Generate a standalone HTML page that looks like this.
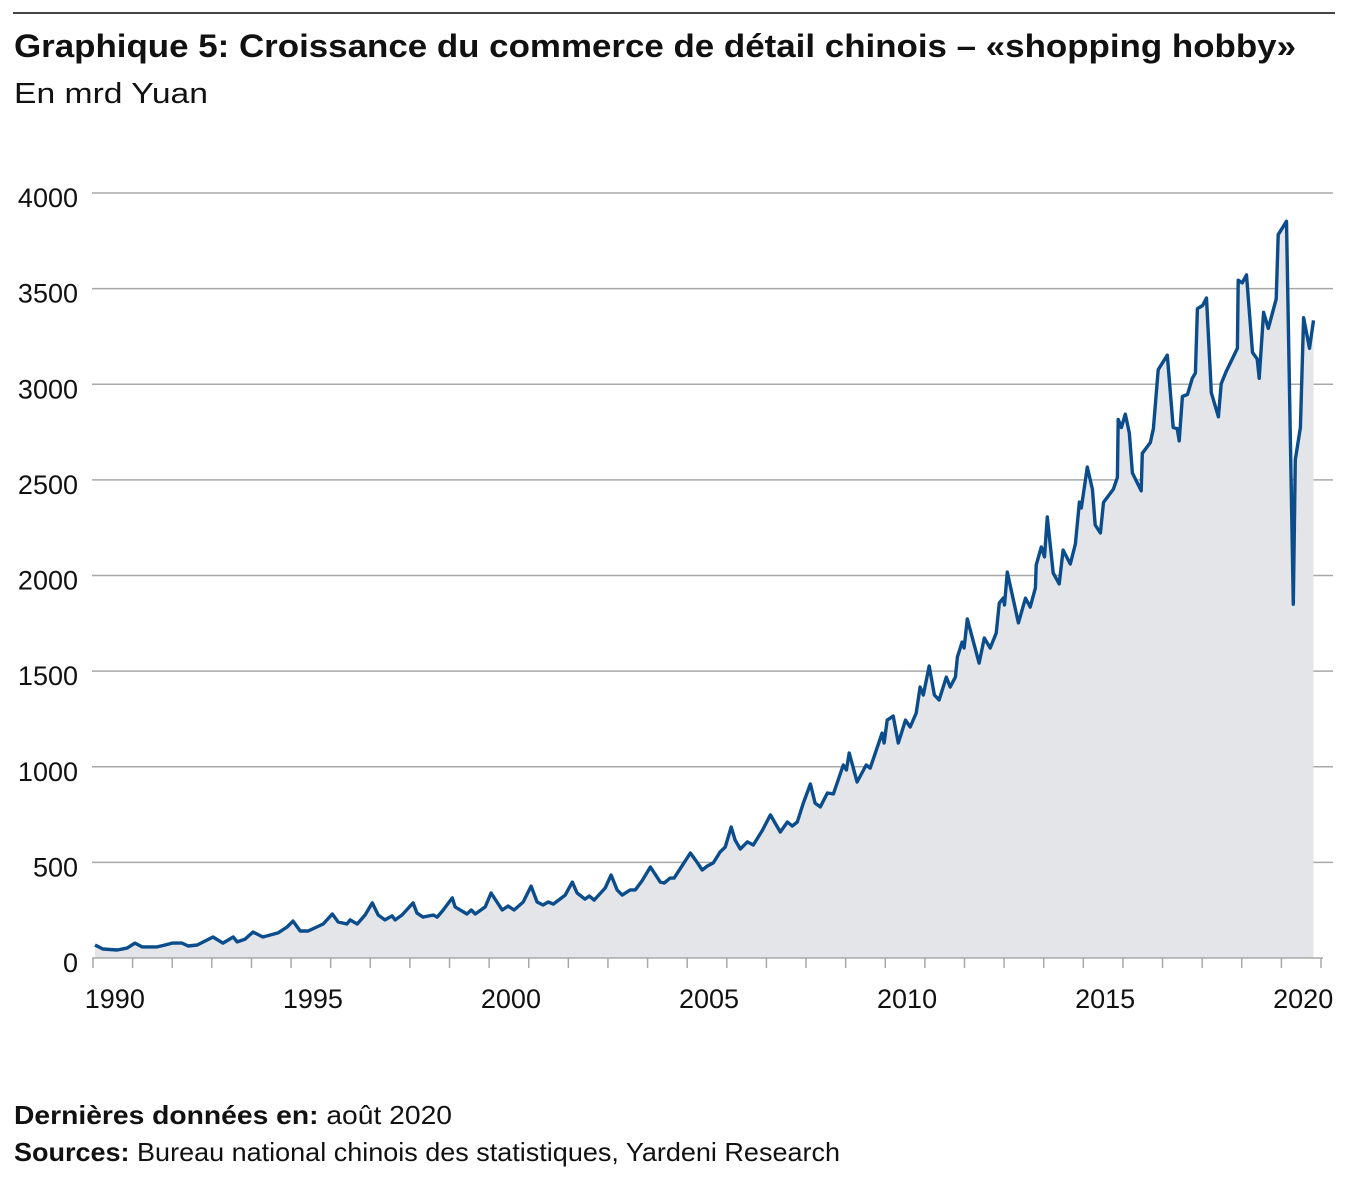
<!DOCTYPE html>
<html><head><meta charset="utf-8"><style>
html,body{margin:0;padding:0;background:#fff;}
svg{display:block;font-family:"Liberation Sans",Arial,sans-serif;}
</style></head><body>
<svg id="chart" width="1353" height="1200" viewBox="0 0 1353 1200" xmlns="http://www.w3.org/2000/svg">
<line x1="13" y1="13" x2="1335" y2="13" stroke="#444" stroke-width="2"/>
<text x="14" y="57" font-size="32" font-weight="bold" fill="#111" textLength="1282" lengthAdjust="spacingAndGlyphs">Graphique 5: Croissance du commerce de détail chinois – «shopping hobby»</text>
<text x="14" y="103" font-size="29" fill="#111" textLength="194" lengthAdjust="spacingAndGlyphs">En mrd Yuan</text>
<g id="grid"></g>
<g id="area"></g>
<g id="xaxis"></g>
<g id="yaxis"></g>
<text x="14" y="1124" font-size="26" fill="#111" textLength="438" lengthAdjust="spacingAndGlyphs"><tspan font-weight="bold">Dernières données en:</tspan> août 2020</text>
<text x="14" y="1161" font-size="26" fill="#111" textLength="826" lengthAdjust="spacingAndGlyphs"><tspan font-weight="bold">Sources:</tspan> Bureau national chinois des statistiques, Yardeni Research</text>
</svg>
<script>
const yTicks = [0,500,1000,1500,2000,2500,3000,3500,4000];
const xLabels = [1990,1995,2000,2005,2010,2015,2020];
const years = [1990.05,1990.25,1990.61,1990.86,1991.06,1991.24,1991.62,1991.82,1992.00,1992.25,1992.40,1992.63,1993.03,1993.28,1993.54,1993.64,1993.84,1994.04,1994.29,1994.67,1994.90,1995.05,1995.23,1995.43,1995.81,1996.04,1996.19,1996.41,1996.49,1996.67,1996.87,1997.05,1997.20,1997.37,1997.55,1997.63,1997.80,1998.08,1998.18,1998.33,1998.59,1998.69,1998.84,1999.07,1999.14,1999.44,1999.55,1999.65,1999.90,2000.05,2000.33,2000.48,2000.63,2000.86,2001.06,2001.21,2001.36,2001.49,2001.62,2001.92,2002.10,2002.22,2002.42,2002.53,2002.65,2002.93,2003.08,2003.23,2003.36,2003.56,2003.69,2003.86,2004.07,2004.32,2004.42,2004.57,2004.67,2004.90,2005.08,2005.26,2005.38,2005.51,2005.66,2005.83,2005.96,2006.11,2006.21,2006.34,2006.52,2006.67,2006.90,2007.10,2007.35,2007.53,2007.65,2007.78,2007.93,2008.11,2008.23,2008.36,2008.54,2008.69,2008.94,2009.02,2009.09,2009.29,2009.52,2009.62,2009.92,2009.97,2010.05,2010.20,2010.33,2010.51,2010.63,2010.78,2010.88,2010.96,2011.11,2011.24,2011.36,2011.54,2011.64,2011.77,2011.82,2011.94,2011.99,2012.07,2012.37,2012.50,2012.65,2012.80,2012.88,2012.98,2013.01,2013.08,2013.36,2013.54,2013.66,2013.79,2013.81,2013.94,2014.02,2014.09,2014.24,2014.39,2014.49,2014.67,2014.80,2014.90,2014.95,2015.10,2015.23,2015.30,2015.43,2015.51,2015.76,2015.86,2015.88,2015.96,2016.06,2016.16,2016.24,2016.46,2016.49,2016.69,2016.77,2016.89,2017.12,2017.27,2017.37,2017.42,2017.50,2017.63,2017.75,2017.83,2017.88,2018.01,2018.11,2018.23,2018.41,2018.48,2018.61,2018.74,2018.89,2018.91,2019.01,2019.12,2019.27,2019.39,2019.44,2019.55,2019.67,2019.87,2019.92,2020.13,2020.30,2020.35,2020.48,2020.56,2020.71,2020.81];
const values = [68,47,42,52,78,58,58,68,78,78,63,68,110,78,110,84,99,136,110,131,162,193,141,141,178,230,188,178,199,178,225,288,225,199,220,199,225,288,235,214,225,214,251,314,267,230,251,230,267,340,251,272,251,293,376,293,277,293,282,329,397,340,308,324,303,366,434,356,329,356,356,403,476,397,392,418,418,491,549,497,460,481,497,554,580,685,617,570,607,591,669,748,659,711,690,711,810,910,810,790,863,858,1009,983,1072,920,1009,993,1176,1124,1244,1265,1124,1244,1208,1281,1417,1375,1527,1375,1349,1469,1417,1469,1574,1652,1621,1773,1542,1673,1621,1699,1856,1882,1846,2018,1752,1882,1835,1935,2055,2149,2097,2306,2013,1956,2133,2060,2165,2384,2353,2567,2452,2264,2222,2382,2452,2513,2816,2774,2844,2746,2536,2443,2639,2695,2768,3076,3152,2774,2768,2704,2936,2947,3031,3059,3395,3412,3451,2956,2830,3003,3068,3124,3188,3544,3530,3572,3166,3132,3031,3376,3292,3446,3782,3852,1850,2606,2774,3348,3188,3334];

const X0=93, X1=1321, Y0=958, Y1=193;
function xs(yr){return X0+(yr-1990)/31*(X1-X0);}
function ys(v){return Y0-(v/4000)*(Y0-Y1);}
const NS="http://www.w3.org/2000/svg";
function mk(tag,parent,attrs){const e=document.createElementNS(NS,tag);for(const k in attrs)e.setAttribute(k,attrs[k]);parent.appendChild(e);return e;}

const grid=document.getElementById('grid'), yax=document.getElementById('yaxis'), xax=document.getElementById('xaxis'), area=document.getElementById('area');
yTicks.forEach(t=>{
  if(t>0){const l=mk('line',grid,{x1:92,x2:1333,y1:ys(t),y2:ys(t),stroke:'#a8a8a8','stroke-width':1.5});
  
  }
  const tx=mk('text',yax,{x:78,y:ys(t)+14,'font-size':27,'text-anchor':'end',fill:'#111'});
  tx.textContent=t;
  
  
});
let d='';
years.forEach((yr,i)=>{d+=(i?'L':'M')+xs(yr).toFixed(1)+','+ys(values[i]).toFixed(1);});
const fillD=d+'L'+xs(years[years.length-1]).toFixed(1)+','+Y0+'L'+xs(years[0]).toFixed(1)+','+Y0+'Z';
const fp=mk('path',area,{d:fillD,fill:'#e4e5e8',stroke:'none'});


const lp=mk('path',area,{d:d,fill:'none',stroke:'#0b4d8c','stroke-width':3.4,'stroke-linejoin':'round'});


const ax=mk('line',xax,{x1:92,x2:1323,y1:Y0,y2:Y0,stroke:'#a8a8a8','stroke-width':1.5});


for(let y=1990;y<=2021;y++){
  const tk=mk('line',xax,{x1:xs(y),x2:xs(y),y1:Y0,y2:Y0+10,stroke:'#a8a8a8','stroke-width':1.5});
  
  
}
xLabels.forEach(y=>{
  const tx=mk('text',xax,{x:xs(y+0.5)+2,y:1008,'font-size':27,'text-anchor':'middle',fill:'#111'});
  tx.textContent=y;
  
  
});
</script>
</body></html>
